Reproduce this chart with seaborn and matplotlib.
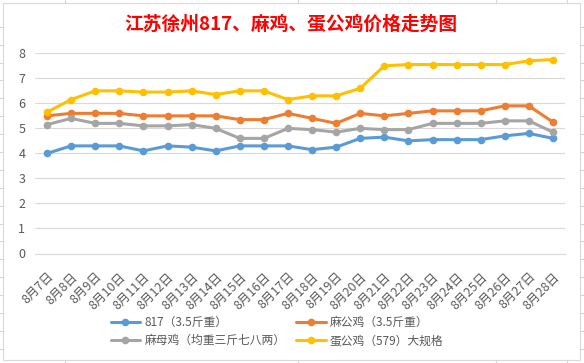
import pandas as pd
import seaborn as sns
import matplotlib.pyplot as plt
from matplotlib.lines import Line2D
from matplotlib.patches import Rectangle

# Data
dates = ["8月7日", "8月8日", "8月9日", "8月10日", "8月11日", "8月12日", "8月13日",
         "8月14日", "8月15日", "8月16日", "8月17日", "8月18日", "8月19日", "8月20日",
         "8月21日", "8月22日", "8月23日", "8月24日", "8月25日", "8月26日", "8月27日",
         "8月28日"]
series_names = ["817（3.5斤重）", "麻公鸡（3.5斤重）", "麻母鸡（均重三斤七八两）", "蛋公鸡（579）大规格"]
price_817 = [4.0, 4.3, 4.3, 4.3, 4.1, 4.3, 4.25, 4.1, 4.3, 4.3, 4.3,
             4.15, 4.25, 4.6, 4.65, 4.5, 4.55, 4.55, 4.55, 4.7, 4.8, 4.6]
price_ma_gong = [5.5, 5.6, 5.6, 5.6, 5.5, 5.5, 5.5, 5.5, 5.35, 5.35, 5.6,
                 5.4, 5.2, 5.6, 5.5, 5.6, 5.7, 5.7, 5.7, 5.9, 5.9, 5.25]
price_ma_mu = [5.15, 5.4, 5.2, 5.2, 5.1, 5.1, 5.15, 5.0, 4.6, 4.6, 5.0,
               4.95, 4.85, 5.0, 4.95, 4.95, 5.2, 5.2, 5.2, 5.3, 5.3, 4.85]
price_dan_gong = [5.65, 6.15, 6.5, 6.5, 6.45, 6.45, 6.5, 6.35, 6.5, 6.5, 6.15,
                  6.3, 6.3, 6.6, 7.5, 7.55, 7.55, 7.55, 7.55, 7.55, 7.7, 7.75]
colors = ["#5B9BD5", "#ED7D31", "#A5A5A5", "#FFC000"]

# Long form table
frames = []
for name, vals in zip(series_names, [price_817, price_ma_gong, price_ma_mu, price_dan_gong]):
    frames.append(pd.DataFrame({"idx": range(len(dates)), "price": vals, "series": name}))
df = pd.concat(frames, ignore_index=True)

sns.set_style("white")
plt.rcParams["font.family"] = ["Noto Sans CJK SC", "DejaVu Sans"]

W, H = 584, 363
fig = plt.figure(figsize=(W / 100, H / 100), dpi=100)

# Spreadsheet cell lines behind the chart
grid_c = "#D4D4D4"
for k in range(19):
    y = 1 - (26.7 + k * 17.9) / H
    fig.add_artist(Line2D([0, 1], [y, y], color=grid_c, lw=0.8, zorder=-3))
for xp in [65.3, 298, 496, 567.3]:
    fig.add_artist(Line2D([xp / W, xp / W], [0, 1], color=grid_c, lw=0.8, zorder=-3))

# Chart area
fig.add_artist(Rectangle((2.7 / W, 1 - 360 / H), (580 - 2.7) / W, (360 - 2.7) / H,
                         facecolor="white", edgecolor="#D9D9D9", lw=0.8, zorder=-2))

ax = fig.add_axes([35 / W, 109.5 / H, 530 / W, 200.2 / H])
ax.set_zorder(0)
ax.patch.set_alpha(0)

sns.lineplot(data=df, x="idx", y="price", hue="series", hue_order=series_names,
             palette=colors, marker="o", markersize=5.5, markeredgewidth=0,
             linewidth=2.2, legend=False, ax=ax)

# Axes styling
ax.set_xlim(-0.5, len(dates) - 0.5)
ax.set_ylim(0, 8)
ax.set_yticks(range(0, 9))
ax.grid(axis="y", color="#D9D9D9", lw=0.8)
ax.set_axisbelow(True)
for s in ["top", "left", "right"]:
    ax.spines[s].set_visible(False)
ax.spines["bottom"].set_color("#D9D9D9")
ax.spines["bottom"].set_linewidth(0.8)
ax.set_xlabel("")
ax.set_ylabel("")

ax.set_xticks(range(len(dates)))
ax.set_xticklabels(dates, rotation=45, ha="right", rotation_mode="anchor")
ax.set_xticks([i - 0.5 for i in range(len(dates) + 1)], minor=True)
ax.tick_params(axis="x", which="major", length=0, pad=12, labelsize=9, labelcolor="#595959")
ax.tick_params(axis="x", which="minor", length=3, width=0.8, color="#D9D9D9")
ax.tick_params(axis="y", length=0, pad=7, labelsize=9, labelcolor="#595959")

# Title
fig.text(291 / W, 1 - 24 / H, "江苏徐州817、麻鸡、蛋公鸡价格走势图", color="#FF0000",
         fontsize=13.5, fontweight="bold", ha="center", va="center")

# Legend (817, 麻母鸡 | 麻公鸡, 蛋公鸡)
lines = ax.lines[:4]
order = [0, 2, 1, 3]
fig.legend([lines[i] for i in order], [series_names[i] for i in order], ncol=2,
           loc="center", bbox_to_anchor=(277 / W, 1 - 331.5 / H), frameon=False,
           fontsize=8.5, handlelength=2.5, handletextpad=0.35, columnspacing=0.9,
           labelspacing=0.45, labelcolor="#595959")

plt.savefig("out.png", dpi=100)
